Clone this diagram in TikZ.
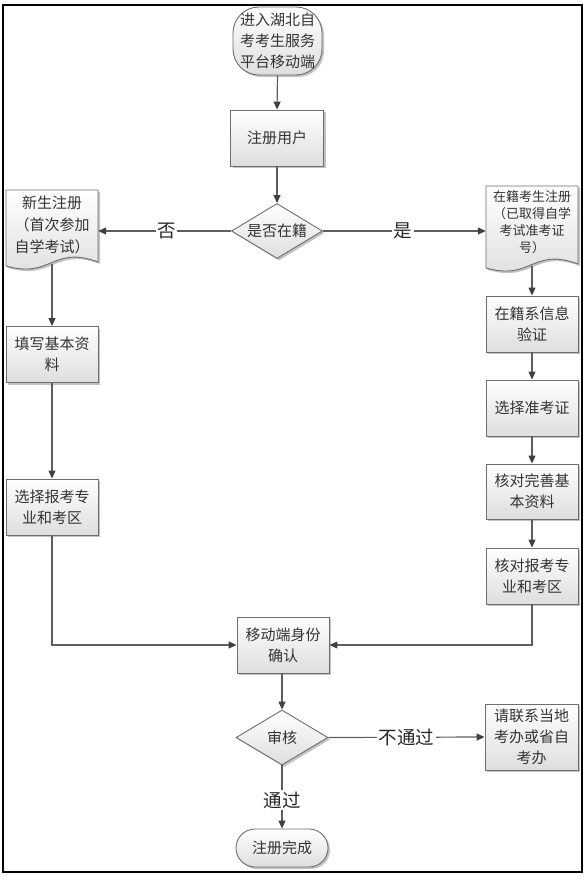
\documentclass[tikz,border=0pt]{standalone}
\usepackage{fontspec}
\setmainfont{Noto Sans CJK SC}
\usetikzlibrary{shapes.geometric,arrows.meta,shadows}
\definecolor{linec}{HTML}{5E5E5E}
\definecolor{arrc}{HTML}{404040}
\definecolor{boxc}{HTML}{6E6E6E}
\definecolor{txtc}{HTML}{333333}
\definecolor{shd}{HTML}{A8A8A8}
\tikzset{
  base/.style={draw=boxc, line width=0.9pt, top color=white, bottom color=black!13,
    text=txtc, font=\fontsize{15}{21}\selectfont, align=center, inner sep=0pt,
    drop shadow={shadow xshift=2pt, shadow yshift=-2pt, fill=shd, opacity=0.7}},
  proc/.style={base, rectangle, minimum width=92pt, minimum height=56pt},
  term/.style={base, rectangle},
  dec/.style={base, diamond, aspect=1.65, minimum width=91pt, minimum height=55pt},
  conn/.style={draw=linec, line width=1.2pt, -{Triangle[length=8pt,width=7pt,color=arrc]}},
  lab/.style={fill=white, inner sep=1.5pt, text=black!85, font=\fontsize{18.5}{18.5}\selectfont},
  doctext/.style={text=txtc, align=center, inner sep=0pt, minimum width=92pt},
  docshape/.style={draw=boxc, line width=0.9pt, top color=white, bottom color=black!13},
  docshadow/.style={fill=shd, opacity=0.7},
}
\begin{document}
\begin{tikzpicture}[x=1pt,y=-1pt]
\useasboundingbox (0,0) rectangle (588,882);
\draw[line width=1.3pt] (3,5) rectangle (582,872);

% start / register / decision
\node[term, minimum width=89pt, minimum height=68pt, rounded corners=26pt] (start) at (277.5,41)
  {进入湖北自\\考考生服务\\平台移动端};
\node[proc, minimum width=93pt] (reg) at (277,138) {注册用户};
\node[dec] (dec1) at (277,231) {是否在籍};

% left document
\fill[docshadow] (8,192) -- (100,192) -- (100,264) .. controls (54,247) and (54,281) .. (8,268) -- cycle;
\shade[docshape] (6,190) -- (98,190) -- (98,262) .. controls (52,245) and (52,279) .. (6,266) -- cycle;
\node[doctext, font=\fontsize{15}{22}\selectfont] (ldoc) at (52,225) {新生注册\\（首次参加\\自学考试）};
\coordinate (ldocb) at (52,264);

% right document
\fill[docshadow] (488,188) -- (580,188) -- (580,266) .. controls (534,249) and (534,283) .. (488,270) -- cycle;
\shade[docshape] (486,186) -- (578,186) -- (578,264) .. controls (532,247) and (532,281) .. (486,268) -- cycle;
\node[doctext, font=\fontsize{13}{17}\selectfont] (rdoc) at (532,222) {在籍考生注册\\（已取得自学\\考试准考证\\号）};
\coordinate (rdocb) at (532,266);

% left column
\node[proc] (l1) at (52,354.5) {填写基本资\\料};
\node[proc] (l2) at (52,507) {选择报考专\\业和考区};

% right column
\node[proc] (r1) at (532,324) {在籍系信息\\验证};
\node[proc] (r2) at (532,408) {选择准考证};
\node[proc, minimum height=55pt] (r3) at (532,491.5) {核对完善基\\本资料};
\node[proc] (r4) at (532,576) {核对报考专\\业和考区};

% lower part
\node[proc] (conf) at (283,645) {移动端身份\\确认};
\node[dec, minimum width=92pt] (dec2) at (282,737.5) {审核};
\node[proc, minimum width=93pt, minimum height=66pt] (contact) at (531.5,737) {请联系当地\\考办或省自\\考办};
\node[term, minimum width=92pt, minimum height=38pt, rounded corners=19pt] (endn) at (282,848) {注册完成};

% connectors
\draw[conn] (start.south) -- (reg.north);
\draw[conn] (reg.south) -- (dec1.north);
\draw[conn] (dec1.west) -- node[lab, pos=0.485] {否} (dec1.west -| ldoc.east);
\draw[conn] (dec1.east) -- node[lab, pos=0.49] {是} (dec1.east -| rdoc.west);
\draw[conn] (ldocb) -- (l1.north);
\draw[conn] (l1.south) -- (l2.north);
\draw[conn] (l2.south) |- (conf.west);
\draw[conn] (rdocb) -- (r1.north);
\draw[conn] (r1.south) -- (r2.north);
\draw[conn] (r2.south) -- (r3.north);
\draw[conn] (r3.south) -- (r4.north);
\draw[conn] (r4.south) |- (conf.east);
\draw[conn] (conf.south -| dec2.north) -- (dec2.north);
\draw[conn] (dec2.east) -- node[lab, pos=0.50] {不通过} (contact.west);
\draw[conn] (dec2.south) -- node[lab, pos=0.55] {通过} (endn.north);
\end{tikzpicture}
\end{document}
